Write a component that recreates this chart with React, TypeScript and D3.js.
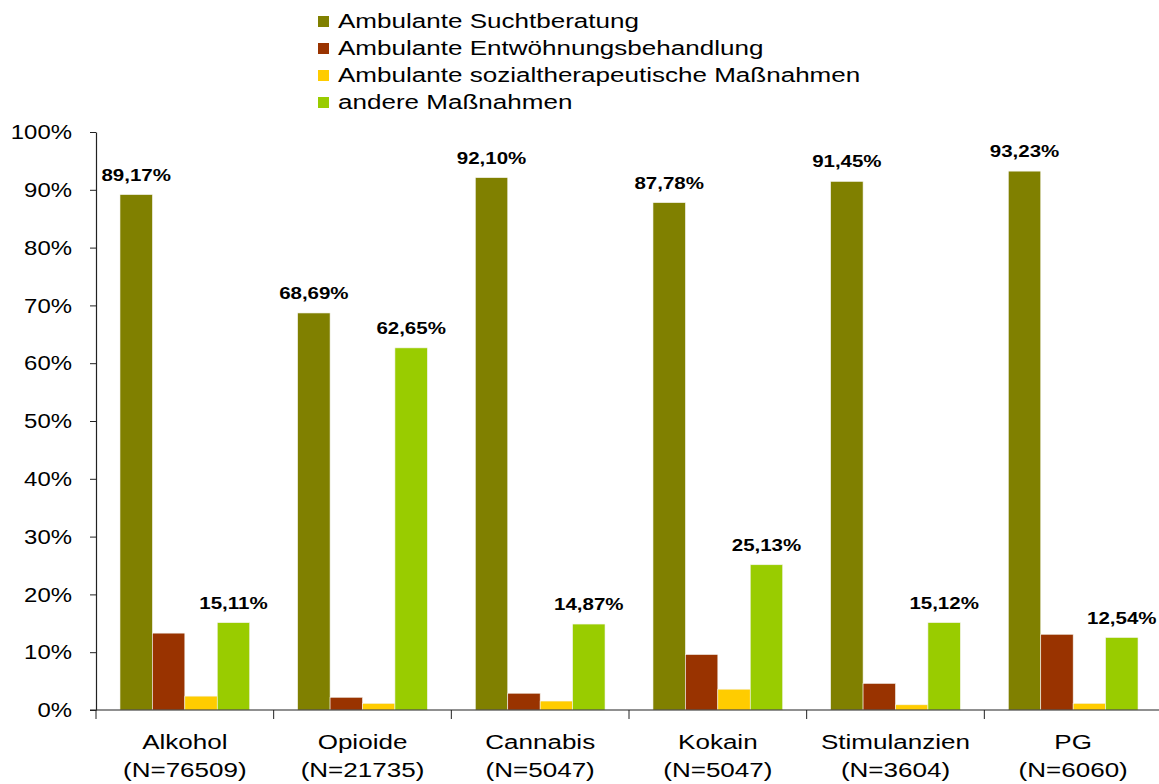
import React, { useEffect, useRef } from "react";
import * as d3 from "d3";

const categories = ["Alkohol", "Opioide", "Cannabis", "Kokain", "Stimulanzien", "PG"];
const sampleSizes = ["(N=76509)", "(N=21735)", "(N=5047)", "(N=5047)", "(N=3604)", "(N=6060)"];

const seriesNames = [
  "Ambulante Suchtberatung",
  "Ambulante Entwöhnungsbehandlung",
  "Ambulante sozialtherapeutische Maßnahmen",
  "andere Maßnahmen",
];
const seriesColors = ["#808000", "#993300", "#FFCC00", "#99CC00"];

const suchtberatung = [89.17, 68.69, 92.1, 87.78, 91.45, 93.23];
const entwoehnung = [13.3, 2.2, 2.9, 9.6, 4.6, 13.1];
const sozialtherapie = [2.4, 1.15, 1.55, 3.6, 0.9, 1.15];
const andere = [15.11, 62.65, 14.87, 25.13, 15.12, 12.54];

// which series get a value label
const labelled = [true, false, false, true];

const yTicks = [0, 10, 20, 30, 40, 50, 60, 70, 80, 90, 100];

const App = () => {
  const ref = useRef<SVGGElement>(null);

  useEffect(() => {
    const g = d3.select(ref.current);
    g.selectAll("*").remove();

    const series = [suchtberatung, entwoehnung, sozialtherapie, andere];
    const margin = { left: 96, top: 132, right: 1162, bottom: 710 };
    const font = "Liberation Sans, Arial, sans-serif";
    // the original's text is a bit wider than Arial, stretch it horizontally
    const stretch = 1.24;

    const x = d3.scaleBand()
      .domain(categories)
      .range([margin.left, margin.right])
      .paddingInner(0.27)
      .paddingOuter(0.135);

    const xInner = d3.scaleBand()
      .domain(d3.range(series.length).map(String))
      .range([0, x.bandwidth()]);

    const y = d3.scaleLinear()
      .domain([0, 100])
      .range([margin.bottom, margin.top]);

    // bars
    series.forEach((vals, si) => {
      g.append("g")
        .selectAll("rect")
        .data(vals)
        .enter().append("rect")
          .attr("x", (d, i) => x(categories[i])! + xInner(String(si))!)
          .attr("y", d => y(d))
          .attr("width", xInner.bandwidth())
          .attr("height", d => y(0) - y(d))
          .attr("fill", seriesColors[si])
          .attr("stroke", "#f4f4ee")
          .attr("stroke-width", 0.6);

      if (labelled[si]) {
        g.append("g")
          .selectAll("text")
          .data(vals)
          .enter().append("text")
            .attr("transform", (d, i) =>
              `translate(${x(categories[i])! + xInner(String(si))! + xInner.bandwidth() / 2}, ${y(d) - 14}) scale(1.28, 1)`)
            .attr("text-anchor", "middle")
            .attr("font-family", font)
            .attr("font-weight", "bold")
            .attr("font-size", 16)
            .attr("fill", "#000")
            .text(d => d.toFixed(2).replace(".", ",") + "%");
      }
    });

    // y axis
    const yAxis = d3.axisLeft(y)
      .tickValues(yTicks)
      .tickSize(6)
      .tickSizeOuter(0)
      .tickFormat(d => `${d}%`);

    const yAxisG = g.append("g")
      .attr("transform", `translate(${margin.left}, 0)`)
      .call(yAxis);
    yAxisG.selectAll("line").attr("stroke", "#222");
    yAxisG.select(".domain").attr("stroke", "#222").attr("stroke-width", 1.2);
    yAxisG.selectAll("text")
      .attr("x", null)
      .attr("transform", "translate(-24, 0) scale(1.14, 1)")
      .attr("font-family", font)
      .attr("font-size", 21)
      .attr("fill", "#000");

    // x axis line and ticks at band edges
    const xAxisG = g.append("g");
    xAxisG.append("line")
      .attr("x1", margin.left - 6)
      .attr("x2", margin.right)
      .attr("y1", y(0))
      .attr("y2", y(0))
      .attr("stroke", "#222")
      .attr("stroke-width", 1.2);
    const step = x.step();
    const edges = d3.range(categories.length + 1).map(i => margin.left + i * step);
    xAxisG.selectAll(".tickmark")
      .data(edges)
      .enter().append("line")
        .attr("class", "tickmark")
        .attr("x1", d => d)
        .attr("x2", d => d)
        .attr("y1", y(0))
        .attr("y2", y(0) + 9)
        .attr("stroke", "#222");

    const catLabels = xAxisG.selectAll(".cat")
      .data(categories)
      .enter().append("text")
        .attr("class", "cat")
        .attr("text-anchor", "middle")
        .attr("font-family", font)
        .attr("font-size", 21)
        .attr("fill", "#000")
        .attr("transform", d => `translate(${x(d)! + x.bandwidth() / 2}, 0) scale(${stretch}, 1)`);
    catLabels.append("tspan").attr("x", 0).attr("y", 749).text(d => d);
    catLabels.append("tspan").attr("x", 0).attr("y", 777).text((d, i) => sampleSizes[i]);

    // legend
    const legend = g.append("g").attr("transform", "translate(318, 14)");
    const rows = legend.selectAll("g")
      .data(seriesNames)
      .enter().append("g")
        .attr("transform", (d, i) => `translate(0, ${i * 27})`);
    rows.append("rect")
      .attr("width", 11)
      .attr("height", 11)
      .attr("y", 2)
      .attr("fill", (d, i) => seriesColors[i]);
    rows.append("text")
      .attr("transform", `translate(20, 14) scale(${stretch}, 1)`)
      .attr("font-family", font)
      .attr("font-size", 21)
      .attr("fill", "#000")
      .text(d => d);
  }, []);

  return (
    <svg width={1159} height={784} style={{ position: "absolute", left: 0, top: 0, background: "#fff" }}>
      <g ref={ref} />
    </svg>
  );
};

export default App;
